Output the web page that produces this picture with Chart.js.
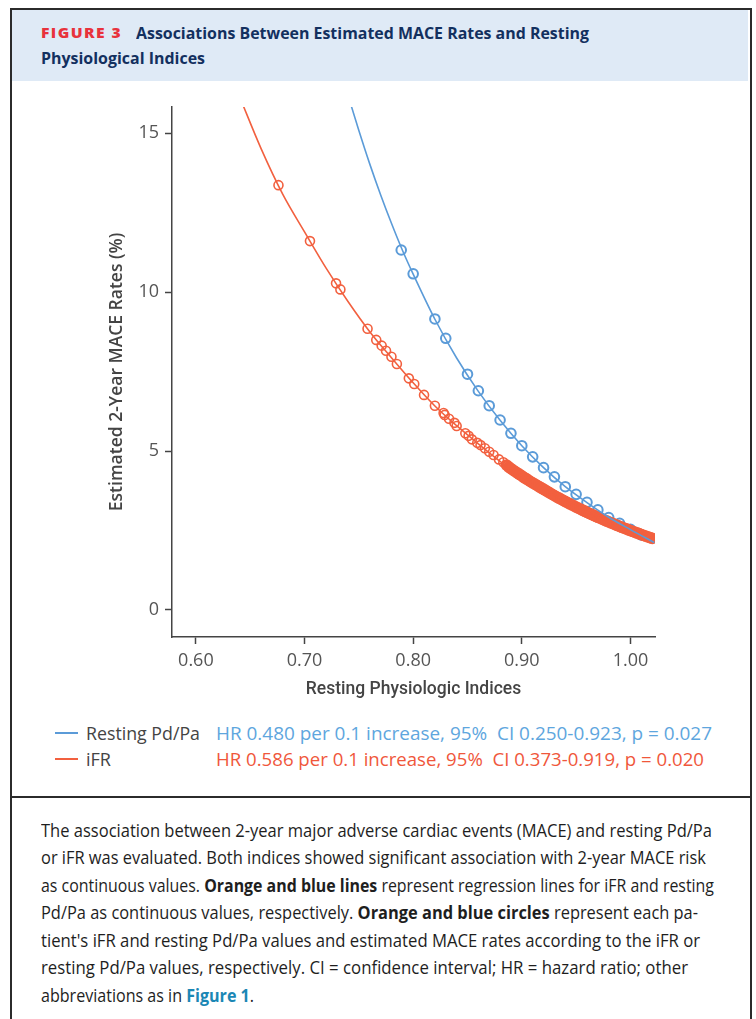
<!DOCTYPE html>
<html>
<head>
<meta charset="utf-8">
<script src="https://cdn.jsdelivr.net/npm/chart.js@4.4.1/dist/chart.umd.min.js"></script>
<style>
  html, body { margin:0; padding:0; background:#fff; }
  body { width:756px; height:1019px; position:relative; overflow:hidden; }
  .frame { position:absolute; left:10px; top:8px; width:738px; height:1040px; border:2px solid #2b2b2b; border-bottom:none; }
  .header { position:absolute; left:12px; top:10px; width:736px; height:71px; background:#dfeaf6; }
  .fit { position:absolute; white-space:nowrap; transform-origin:0 50%; }
  .ht { font-family:"Open Sans",sans-serif; font-weight:bold; font-size:16.5px; line-height:24px; color:#13305f; }
  .fig { font-family:"Open Sans",sans-serif; font-weight:800; font-size:14.5px; line-height:24px; color:#e8323c; letter-spacing:1.3px; }
  .sep { position:absolute; left:10px; top:796px; width:742px; height:2px; background:#2b2b2b; }
  #wrap { position:absolute; left:0; top:90px; width:756px; height:610px; }
  .leg { font-family:"Open Sans",sans-serif; font-size:19px; line-height:24px; }
  .dash { position:absolute; width:23px; height:2px; }
  .cap { font-family:"Open Sans",sans-serif; font-size:18.5px; line-height:27px; color:#1e1e1e; }
  .cap b { font-weight:bold; }
  .cap .lnk { color:#1b87b5; font-weight:bold; }
</style>
</head>
<body>
<div class="frame"></div>
<div class="header"></div>
<div class="fit fig" id="fig" style="left:41px; top:21px;">FIGURE 3</div>
<div class="fit ht" id="t1" style="left:136px; top:21px;">Associations Between Estimated MACE Rates and Resting</div>
<div class="fit ht" id="t2" style="left:41px; top:46px;">Physiological Indices</div>
<div id="wrap"><canvas id="c"></canvas></div>

<div class="dash" style="left:55px; top:732px; background:#5b9bd8;"></div>
<div class="fit leg" id="l1" style="left:86px; top:721px; color:#444;">Resting Pd/Pa</div>
<div class="fit leg" id="s1" style="left:216px; top:721px; color:#5ea6de;">HR 0.480 per 0.1 increase, 95%&nbsp; CI 0.250-0.923, p = 0.027</div>
<div class="dash" style="left:55px; top:758px; background:#f2603f;"></div>
<div class="fit leg" id="l2" style="left:86px; top:747px; color:#444;">iFR</div>
<div class="fit leg" id="s2" style="left:216px; top:747px; color:#f0573b;">HR 0.586 per 0.1 increase, 95%&nbsp; CI 0.373-0.919, p = 0.020</div>

<div class="sep"></div>
<div class="fit cap" id="c1" style="left:41px; top:815.5px;">The association between 2-year major adverse cardiac events (MACE) and resting Pd/Pa</div>
<div class="fit cap" id="c2" style="left:41px; top:843px;">or iFR was evaluated. Both indices showed significant association with 2-year MACE risk</div>
<div class="fit cap" id="c3" style="left:41px; top:870.5px;">as continuous values. <b>Orange and blue lines</b> represent regression lines for iFR and resting</div>
<div class="fit cap" id="c4" style="left:41px; top:898px;">Pd/Pa as continuous values, respectively. <b>Orange and blue circles</b> represent each pa-</div>
<div class="fit cap" id="c5" style="left:41px; top:925.5px;">tient's iFR and resting Pd/Pa values and estimated MACE rates according to the iFR or</div>
<div class="fit cap" id="c6" style="left:41px; top:953px;">resting Pd/Pa values, respectively. CI = confidence interval; HR = hazard ratio; other</div>
<div class="fit cap" id="c7" style="left:41px; top:980.5px;">abbreviations as in <span class="lnk">Figure 1</span>.</div>

<script>
// ---- data ----
const xTicks = [0.60, 0.70, 0.80, 0.90, 1.00];
const yTicks = [0, 5, 10, 15];

// Resting Pd/Pa regression line
const pdpaLineX = [0.740, 0.750, 0.760, 0.770, 0.780, 0.790, 0.800, 0.820, 0.840, 0.860, 0.880, 0.900, 0.920, 0.940, 0.960, 0.980, 1.000, 1.022];
const pdpaLineY = [16.20, 15.09, 14.04, 13.07, 12.17, 11.33, 10.57, 9.15, 7.93, 6.88, 5.97, 5.17, 4.48, 3.88, 3.38, 2.92, 2.53, 2.12];

// Resting Pd/Pa patient circles
const pdpaDotX = [0.789, 0.800, 0.820, 0.830, 0.850, 0.860, 0.870, 0.880, 0.890, 0.900, 0.910, 0.920, 0.930, 0.940, 0.950, 0.960, 0.970, 0.980, 0.990, 1.000, 1.010];
const pdpaDotY = [11.33, 10.58, 9.16, 8.55, 7.42, 6.90, 6.43, 5.98, 5.56, 5.17, 4.82, 4.48, 4.19, 3.88, 3.64, 3.39, 3.15, 2.91, 2.73, 2.54, 2.36];

// iFR regression line
const ifrLineX = [0.640, 0.660, 0.680, 0.700, 0.720, 0.740, 0.760, 0.780, 0.800, 0.820, 0.840, 0.860, 0.880, 0.900, 0.920, 0.940, 0.960, 0.980, 1.000, 1.021];
const ifrLineY = [16.17, 14.52, 13.08, 11.90, 10.75, 9.71, 8.76, 7.94, 7.15, 6.42, 5.80, 5.23, 4.68, 4.22, 3.80, 3.42, 3.08, 2.77, 2.50, 2.24];

// iFR patient circles (separate, sparser part of the curve)
const ifrDotX = [0.676, 0.705, 0.729, 0.733, 0.758, 0.766, 0.771, 0.775, 0.780, 0.785, 0.796, 0.801, 0.810, 0.820,
  0.828, 0.829, 0.833, 0.838, 0.840, 0.848, 0.851, 0.854, 0.859, 0.862, 0.866, 0.870, 0.874, 0.879, 0.883];
const ifrDotY = [13.37, 11.61, 10.28, 10.09, 8.85, 8.50, 8.32, 8.16, 7.97, 7.74, 7.29, 7.11, 6.77, 6.43,
  6.20, 6.14, 6.02, 5.89, 5.79, 5.56, 5.48, 5.37, 5.26, 5.19, 5.09, 4.98, 4.88, 4.74, 4.65];

// iFR patient circles (dense band near normal values)
const ifrBandX = [0.886, 0.888, 0.890, 0.892, 0.894, 0.896, 0.898, 0.900, 0.902, 0.904, 0.906, 0.908, 0.910, 0.912, 0.914, 0.916, 0.918,
  0.920, 0.922, 0.924, 0.926, 0.928, 0.930, 0.932, 0.934, 0.936, 0.938, 0.940, 0.942, 0.944, 0.946, 0.948, 0.950,
  0.952, 0.954, 0.956, 0.958, 0.960, 0.962, 0.964, 0.966, 0.968, 0.970, 0.972, 0.974, 0.976, 0.978, 0.980, 0.982,
  0.984, 0.986, 0.988, 0.990, 0.992, 0.994, 0.996, 0.998, 1.000, 1.002, 1.004, 1.006, 1.008, 1.010, 1.012, 1.014,
  1.016, 1.018, 1.020];
const ifrBandY = [4.56, 4.50, 4.45, 4.40, 4.355, 4.31, 4.265, 4.22, 4.17, 4.13, 4.085, 4.04, 4.00, 3.96, 3.92, 3.88, 3.84,
  3.80, 3.76, 3.72, 3.68, 3.64, 3.60, 3.56, 3.525, 3.49, 3.45, 3.415, 3.38, 3.345, 3.31, 3.275, 3.24,
  3.205, 3.172, 3.139, 3.107, 3.075, 3.043, 3.012, 2.981, 2.950, 2.920, 2.890, 2.860, 2.830, 2.801, 2.773, 2.744,
  2.716, 2.688, 2.660, 2.632, 2.605, 2.579, 2.552, 2.526, 2.500, 2.474, 2.449, 2.424, 2.399, 2.374, 2.350, 2.326,
  2.302, 2.278, 2.254];

const BLUE = '#5b9bd8';
const ORANGE = '#f2603f';

const pts = (xs, ys) => xs.map((x, i) => ({ x: x, y: ys[i] }));

new Chart(document.getElementById('c'), {
  type: 'scatter',
  data: {
    datasets: [
      { label: 'Resting Pd/Pa circles', data: pts(pdpaDotX, pdpaDotY), order: 5,
        pointRadius: 4.8, pointBorderWidth: 2, borderColor: BLUE, pointBorderColor: BLUE,
        pointBackgroundColor: 'rgba(255,255,255,0)', showLine: false },
      { label: 'iFR circles', data: pts(ifrDotX, ifrDotY), order: 4,
        pointRadius: 4.5, pointBorderWidth: 1.6, borderColor: ORANGE, pointBorderColor: ORANGE,
        pointBackgroundColor: 'rgba(255,255,255,0)', showLine: false },
      { label: 'iFR circles band', data: pts(ifrBandX, ifrBandY), order: 3,
        pointRadius: 4.3, pointBorderWidth: 3.2, borderColor: ORANGE, pointBorderColor: ORANGE,
        pointBackgroundColor: 'rgba(255,255,255,0)', showLine: false },
      { label: 'iFR', data: pts(ifrLineX, ifrLineY), order: 2, showLine: true,
        borderColor: ORANGE, borderWidth: 1.6, pointRadius: 0, cubicInterpolationMode: 'monotone' },
      { label: 'Resting Pd/Pa', data: pts(pdpaLineX, pdpaLineY), order: 1, showLine: true,
        borderColor: BLUE, borderWidth: 1.6, pointRadius: 0, cubicInterpolationMode: 'monotone' }
    ]
  },
  options: {
    responsive: true,
    maintainAspectRatio: false,
    animation: false,
    events: [],
    layout: { padding: { left: 107, right: 101, top: 17, bottom: 0 } },
    plugins: { legend: { display: false }, tooltip: { enabled: false } },
    scales: {
      x: {
        type: 'linear', min: 0.578, max: 1.0226,
        afterBuildTicks: s => { s.ticks = xTicks.map(v => ({ value: v })); },
        afterFit: s => { s.height = 63; },
        ticks: { callback: v => Number(v).toFixed(2), color: '#555', padding: 6, maxRotation: 0, autoSkip: false,
                 font: { family: 'Open Sans', size: 18 } },
        grid: { drawOnChartArea: false, drawTicks: true, tickLength: 7, tickColor: '#444', tickWidth: 1.5 },
        border: { display: true, color: '#444', width: 1.5 },
        title: { display: true, text: 'Resting Physiologic Indices', color: '#444', padding: 0,
                 font: { family: 'Roboto', size: 17.5, weight: '500' } }
      },
      y: {
        type: 'linear', min: -0.85, max: 15.83,
        afterBuildTicks: s => { s.ticks = yTicks.map(v => ({ value: v })); },
        afterFit: s => { s.width = 65; },
        ticks: { callback: v => String(v), color: '#555', padding: 6, autoSkip: false,
                 font: { family: 'Open Sans', size: 18 } },
        grid: { drawOnChartArea: false, drawTicks: true, tickLength: 7, tickColor: '#444', tickWidth: 1.5 },
        border: { display: true, color: '#444', width: 1.5 },
        title: { display: true, text: 'Estimated 2-Year MACE Rates (%)', color: '#444', padding: 0,
                 font: { family: 'Open Sans', size: 17.5, weight: '600' } }
      }
    }
  }
});

// squeeze HTML text lines horizontally to the widths they take in the figure
const widths = { fig: 81, t1: 453, t2: 164, l1: 114, l2: 25, s1: 496, s2: 488,
  c1: 671, c2: 665, c3: 673, c4: 657, c5: 659, c6: 647, c7: 213 };
Object.keys(widths).forEach(id => {
  const el = document.getElementById(id);
  const w = el.getBoundingClientRect().width;
  el.style.transform = 'scaleX(' + (widths[id] / w).toFixed(4) + ')';
});
</script>
</body>
</html>
